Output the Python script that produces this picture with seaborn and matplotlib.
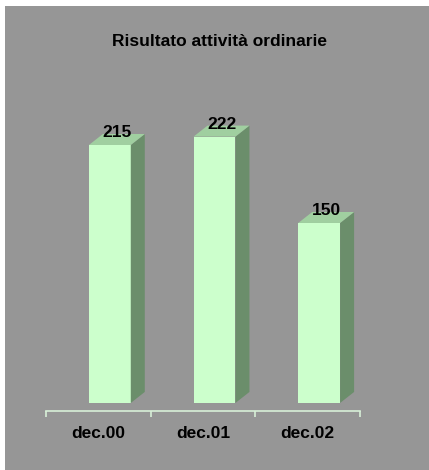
import matplotlib
matplotlib.use("Agg")
import matplotlib.pyplot as plt
from matplotlib.patches import Polygon, Rectangle
import seaborn as sns
import pandas as pd

# dati del grafico
categorie = ["dec.00", "dec.01", "dec.02"]
valori = [215, 222, 150]
titolo = "Risultato attività ordinarie"

sns.set_theme(style="white")
plt.rcParams["font.family"] = ["Liberation Sans", "DejaVu Sans"]

df = pd.DataFrame({"periodo": categorie, "valore": valori})

W, H = 429, 470
fig = plt.figure(figsize=(W / 100, H / 100), dpi=100)
fig.patch.set_facecolor("white")
# sfondo grigio (bordo bianco in alto e a sinistra)
fig.patches.append(Rectangle((5 / W, 0), 1, 1 - 6 / H, transform=fig.transFigure,
                             facecolor="#969696", edgecolor="none", zorder=-1))

ax = fig.add_axes([46 / W, 59 / H, 314 / W, 311 / H])
ax.set_facecolor("none")

sns.barplot(data=df, x="periodo", y="valore", color="#ccffcc", saturation=1,
            width=0.4, linewidth=0, ax=ax, zorder=3)
ax.set_xlim(-0.5, 2.5)
ax.set_ylim(-6.7, 252.5)

# profondità 3D (in pixel -> unità dati)
dx = 14 / 314 * 3.0
dy = 11 / 311 * (252.5 + 6.7)
shift = 0.11

for p, v in zip(ax.patches, valori):
    p.set_x(p.get_x() + shift)
    x0 = p.get_x()
    x1 = x0 + p.get_width()
    h = p.get_height()
    side = Polygon([(x1, 0), (x1 + dx, dy), (x1 + dx, h + dy), (x1, h)],
                   closed=True, facecolor="#6b8e6b", edgecolor="none", zorder=3)
    top = Polygon([(x0, h), (x0 + dx, h + dy), (x1 + dx, h + dy), (x1, h)],
                  closed=True, facecolor="#a0cfa0", edgecolor="none", zorder=3)
    ax.add_patch(side)
    ax.add_patch(top)
    ax.text((x0 + x1) / 2 + dx / 2, h + dy + 1, str(v), ha="center", va="center",
            fontsize=12.5, fontweight="bold", color="black", zorder=5)

for s in ["top", "left", "right"]:
    ax.spines[s].set_visible(False)
ax.spines["bottom"].set_color("#d8f0d8")
ax.spines["bottom"].set_linewidth(1.2)

ax.set_xticks(range(len(categorie)))
ax.set_xticklabels(categorie, fontsize=12.5, fontweight="bold")
ax.set_xticks([-0.5, 0.5, 1.5, 2.5], minor=True)
ax.tick_params(axis="x", which="major", length=0, pad=11, colors="black")
ax.tick_params(axis="x", which="minor", length=4, width=1.2, direction="out",
               color="#d8f0d8", bottom=True)
ax.set_yticks([])
ax.set_xlabel("")
ax.set_ylabel("")

fig.text(220 / W, 1 - 41 / H, titolo, ha="center", va="center",
         fontsize=12.5, fontweight="bold", color="black")

fig.savefig("out.png", dpi=100)
